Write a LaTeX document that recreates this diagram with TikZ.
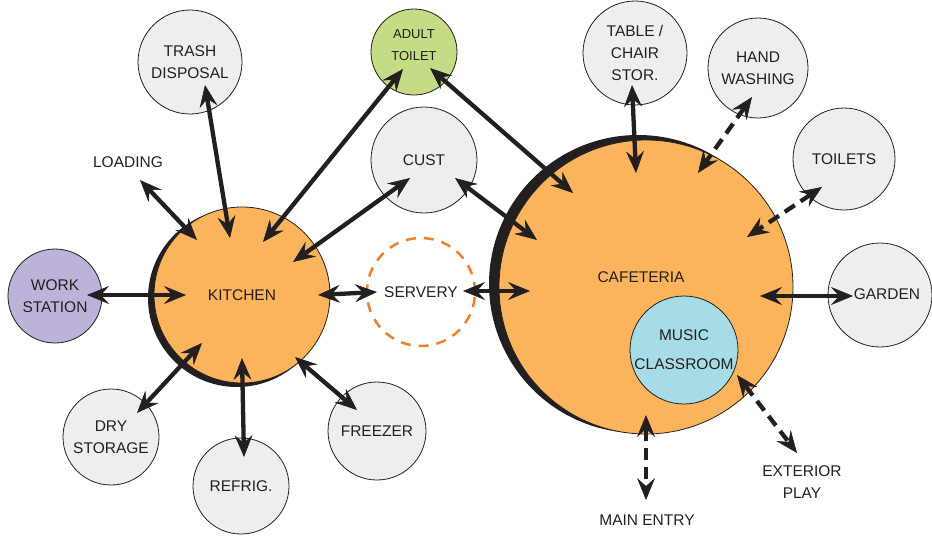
\documentclass[tikz,border=0pt]{standalone}
\usepackage{fontspec}
\setmainfont{Liberation Sans}
\usetikzlibrary{arrows.meta}
\definecolor{ink}{HTML}{231F20}
\definecolor{orangefill}{HTML}{FBB45C}
\definecolor{grayfill}{HTML}{EDEEF0}
\definecolor{purplefill}{HTML}{BDB2D7}
\definecolor{greenfill}{HTML}{C4DC84}
\definecolor{bluefill}{HTML}{A6DCE5}
\definecolor{dashorange}{HTML}{F07F2A}
\begin{document}
\begin{tikzpicture}[x=1pt,y=-1pt,
  lbl/.style={font=\fontsize{15.5}{22}\selectfont, text=ink, align=center},
  room/.style={circle, draw=ink, line width=0.8pt, fill=grayfill, inner sep=0pt, lbl},
  tipa/.tip={Stealth[length=22pt,width=18pt,inset=8pt,line width=0.6pt]},
  arr/.style={draw=ink, line width=4.3pt, tipa-tipa},
  darr/.style={arr, dash pattern=on 12pt off 7pt}]
\useasboundingbox (0,0) rectangle (932,536);

% big spaces with shadow crescents
\fill[ink] (237,298) circle (89);
\node[circle, fill=orangefill, draw=ink, line width=0.8pt, minimum size=176pt, inner sep=0pt, lbl] (kitchen) at (242,295) {KITCHEN};
\fill[ink] (638,284) circle (149);
\node[circle, fill=orangefill, draw=ink, line width=0.8pt, minimum size=294pt, inner sep=0pt] (cafe) at (646,287) {};
\node[lbl] (cafelbl) at (641,277) {CAFETERIA};
\node[circle, fill=bluefill, draw=ink, line width=0.8pt, minimum size=108pt, inner sep=0pt, lbl, font=\fontsize{15.5}{29}\selectfont] (music) at (684,350) {MUSIC\\CLASSROOM};

% servery
\node[circle, draw=dashorange, line width=2.5pt, dash pattern=on 10pt off 8pt, minimum size=108pt, inner sep=0pt, lbl] (servery) at (421,292) {SERVERY};

% rooms
\node[room, minimum size=104pt] (trash) at (190,62) {TRASH\\DISPOSAL};
\node[room, fill=greenfill, minimum size=86pt] (toilet) at (414,52) {};
\node[lbl, font=\fontsize{13}{22}\selectfont] (toiletlbl) at (414,45) {ADULT\\TOILET};
\node[room, minimum size=106pt] (cust) at (424,160) {CUST};
\node[room, minimum size=104pt] (table) at (635,53) {TABLE /\\CHAIR\\STOR.};
\node[room, minimum size=100pt] (hand) at (758,68) {HAND\\WASHING};
\node[room, minimum size=102pt] (toilets) at (844,159) {TOILETS};
\node[room, minimum size=104pt] (garden) at (880,295) {};
\node[lbl] (gardenlbl) at (887,294) {GARDEN};
\node[room, fill=purplefill, minimum size=94pt] (work) at (55,296) {WORK\\STATION};
\node[room, minimum size=96pt] (dry) at (111,437) {DRY\\STORAGE};
\node[room, minimum size=96pt] (refrig) at (241,486) {REFRIG.};
\node[room, minimum size=98pt] (freezer) at (377,431) {FREEZER};

% free labels
\node[lbl] (loading) at (128,162) {LOADING};
\node[lbl] (mainentry) at (647,520) {MAIN ENTRY};
\node[lbl] (exterior) at (802,482) {EXTERIOR\\PLAY};

% connector end points
\coordinate (trashA) at (205,85);   \coordinate (trashB) at (230,238);
\coordinate (toiletA) at (403,69);  \coordinate (toiletB) at (263,242);
\coordinate (toiletC) at (430,68);  \coordinate (toiletD) at (573,193);
\coordinate (custA) at (410,178);   \coordinate (custB) at (293,262);
\coordinate (custC) at (455,178);   \coordinate (custD) at (537,240);
\coordinate (loadA) at (140,180);   \coordinate (loadB) at (197,240);
\coordinate (workA) at (87,295);    \coordinate (workB) at (186,295);
\coordinate (servA) at (318,295);   \coordinate (servB) at (377,292);
\coordinate (servC) at (463,291);   \coordinate (servD) at (530,291);
\coordinate (dryA) at (202,343);    \coordinate (dryB) at (137,413);
\coordinate (refA) at (242,358);    \coordinate (refB) at (244,457);
\coordinate (frzA) at (295,357);    \coordinate (frzB) at (357,410);
\coordinate (tabA) at (632,85);     \coordinate (tabB) at (636,173);
\coordinate (handA) at (752,97);    \coordinate (handB) at (698,173);
\coordinate (toilsA) at (822,187);  \coordinate (toilsB) at (747,237);
\coordinate (gardA) at (760,296);   \coordinate (gardB) at (853,296);
\coordinate (mainA) at (646,415);   \coordinate (mainB) at (646,500);
\coordinate (extA) at (737,375);    \coordinate (extB) at (797,453);

% connectors
\draw[arr] (trashA) -- (trashB);
\draw[arr] (toiletA) -- (toiletB);
\draw[arr] (toiletC) -- (toiletD);
\draw[arr] (custA) -- (custB);
\draw[arr] (custC) -- (custD);
\draw[arr] (loadA) -- (loadB);
\draw[arr] (workA) -- (workB);
\draw[arr] (servA) -- (servB);
\draw[arr] (servC) -- (servD);
\draw[arr] (dryA) -- (dryB);
\draw[arr] (refA) -- (refB);
\draw[arr] (frzA) -- (frzB);
\draw[arr] (tabA) -- (tabB);
\draw[darr] (handA) -- (handB);
\draw[darr] (toilsA) -- (toilsB);
\draw[arr] (gardA) -- (gardB);
\draw[darr] (mainA) -- (mainB);
\draw[darr] (extA) -- (extB);
\end{tikzpicture}
\end{document}
